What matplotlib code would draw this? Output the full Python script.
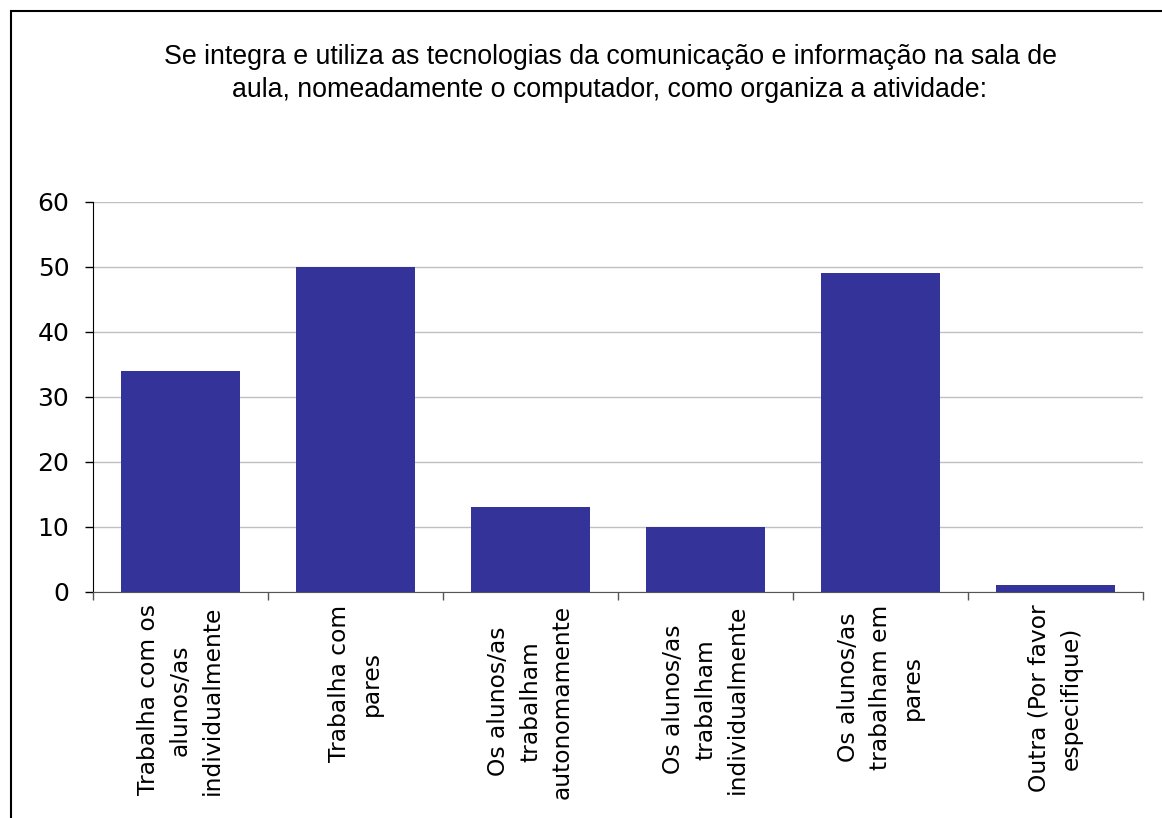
import matplotlib
matplotlib.use("Agg")
import matplotlib.pyplot as plt
from matplotlib.patches import Rectangle
import numpy as np

categories = [
    "Trabalha com os\nalunos/as\nindividualmente",
    "Trabalha com\npares",
    "Os alunos/as\ntrabalham\nautonomamente",
    "Os alunos/as\ntrabalham\nindividualmente",
    "Os alunos/as\ntrabalham em\npares",
    "Outra (Por favor\nespecifique)",
]
values = [34, 50, 13, 10, 49, 1]
yticks = [0, 10, 20, 30, 40, 50, 60]
title = ("Se integra e utiliza as tecnologias da comunicação e informação na sala de\n"
         "aula, nomeadamente o computador, como organiza a atividade:")

fig = plt.figure(figsize=(11.62, 8.18), dpi=100)
ax = fig.add_axes([0.0800, 0.2763, 0.9036, 0.4768])

x = np.arange(len(categories))
ax.bar(x, values, width=0.68, color="#333399", zorder=3)

ax.set_xlim(-0.5, len(categories) - 0.5)
ax.set_ylim(0, 60)
ax.set_yticks(yticks)
ax.yaxis.grid(True, color="#c0c0c0", linewidth=1, zorder=0)
ax.set_axisbelow(True)

ax.set_xticks(x)
ax.set_xticklabels(categories, rotation=90, ha="center", va="top",
                   multialignment="center", fontsize=16.8, family="DejaVu Sans",
                   linespacing=1.5)
ax.set_xticks(np.arange(-0.5, len(categories)), minor=True)
ax.tick_params(axis="x", which="major", length=0, pad=9)
ax.tick_params(axis="x", which="minor", length=6, width=1, color="#555555")
ax.tick_params(axis="y", length=6, width=1, labelsize=18, pad=11)
for lab in ax.get_yticklabels():
    lab.set_family("DejaVu Sans")

for s in ["top", "right"]:
    ax.spines[s].set_visible(False)
ax.spines["left"].set_color("black")
ax.spines["bottom"].set_color("#555555")

fig.text(0.525, 0.946, title, ha="center", va="top", fontsize=19.3,
         family="Liberation Sans", linespacing=1.33)

fig.patches.append(Rectangle((11/1162, -0.1), 1.2, 1 - 11/818 + 0.1,
                             transform=fig.transFigure, fill=False,
                             edgecolor="black", linewidth=1.5))

fig.savefig("out.png", dpi=100)
